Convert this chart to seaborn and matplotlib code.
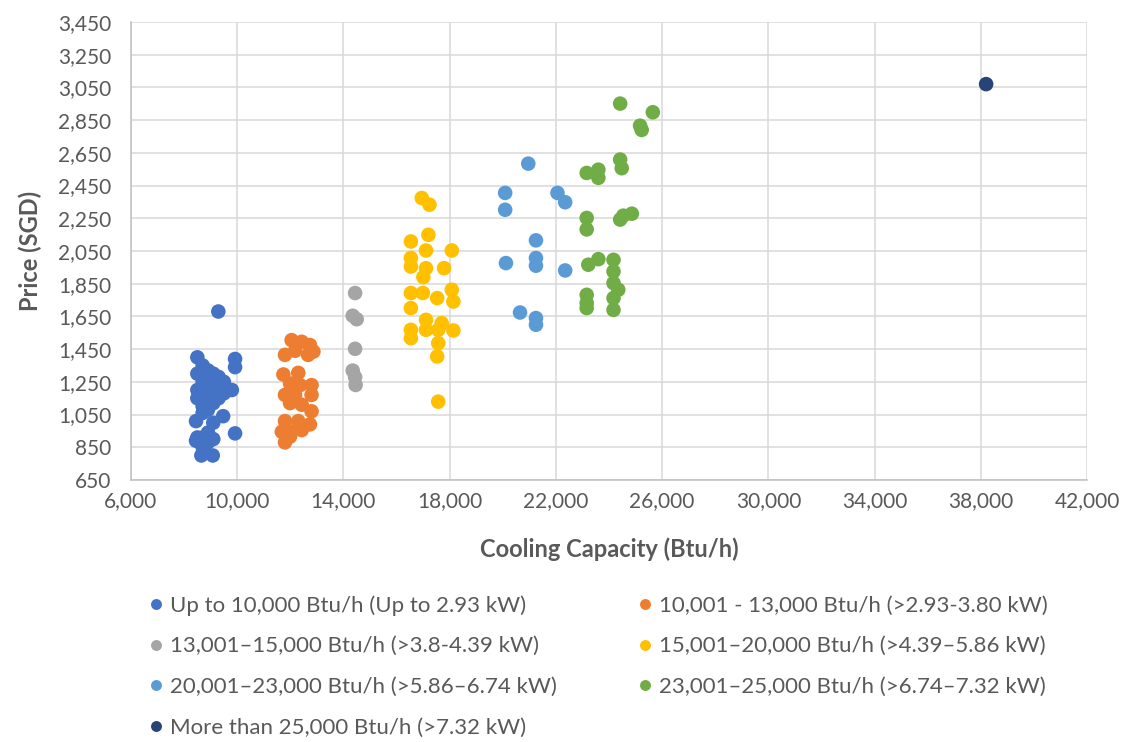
import pandas as pd
import matplotlib.pyplot as plt
import seaborn as sns
from matplotlib.ticker import FuncFormatter

labels = [
    "Up to 10,000 Btu/h (Up to 2.93 kW)",
    "10,001 - 13,000 Btu/h (>2.93-3.80 kW)",
    "13,001\u201315,000 Btu/h (>3.8-4.39 kW)",
    "15,001\u201320,000 Btu/h (>4.39\u20135.86 kW)",
    "20,001\u201323,000 Btu/h (>5.86\u20136.74 kW)",
    "23,001\u201325,000 Btu/h (>6.74\u20137.32 kW)",
    "More than 25,000 Btu/h (>7.32 kW)",
]
colors = ["#4472C4", "#ED7D31", "#A5A5A5", "#FFC000", "#5B9BD5", "#70AD47", "#264478"]

x_ticks = list(range(6000, 42001, 4000))
y_ticks = list(range(650, 3451, 200))

# up to 10,000
blue_x = [9290, 8500, 8500, 8500, 8500, 8450, 8500, 8450, 8700, 8700, 8700, 8700, 8700,
          8700, 8700, 8700, 8700, 8650, 8900, 8900, 8900, 8900, 8900, 8900, 8900, 8900,
          9100, 9100, 9100, 9100, 9100, 9100, 9100, 9080, 9300, 9300, 9300, 9470, 9500,
          9500, 9920, 9920, 9800, 9920]
blue_y = [1680, 1400, 1300, 1200, 1150, 1010, 910, 890, 1350, 1280, 1250, 1200, 1150,
          1100, 1060, 910, 850, 800, 1320, 1250, 1220, 1170, 1130, 1080, 940, 880,
          1300, 1250, 1200, 1150, 1120, 1000, 900, 800, 1280, 1220, 1150, 1040, 1250,
          1180, 1390, 1340, 1200, 935]

# 10,001 - 13,000
orange_x = [12050, 12430, 12740, 12870, 11800, 12180, 12670, 11740, 12300, 11990, 12370,
            12800, 11800, 12180, 12800, 11990, 12430, 12800, 11800, 12300, 12740, 11680,
            12050, 12430, 11800, 11990]
orange_y = [1505, 1495, 1475, 1435, 1415, 1440, 1415, 1295, 1305, 1240, 1230,
            1230, 1170, 1170, 1170, 1120, 1110, 1070, 1010, 1010, 990, 945,
            945, 955, 880, 915]

# 13,001 - 15,000
gray_x = [14440, 14350, 14500, 14440, 14350, 14440, 14460]
gray_y = [1793, 1654, 1633, 1452, 1319, 1279, 1231]

# 15,001 - 20,000
yellow_x = [16950, 17240, 17200, 16540, 17110, 18080, 16540, 16540, 17110, 17790, 17010,
            16540, 16990, 18080, 17530, 18140, 16540, 17110, 17700, 16540, 16540, 17110,
            17570, 18140, 17570, 17530, 17570]
yellow_y = [2374, 2333, 2149, 2108, 2053, 2053, 2007, 1955, 1945, 1945, 1890,
            1793, 1793, 1813, 1762, 1741, 1701, 1629, 1609, 1568, 1517, 1568,
            1568, 1564, 1487, 1405, 1129]

# 20,001 - 23,000
lblue_x = [20960, 20090, 20090, 22060, 22350, 21250, 21250, 21250, 20120, 22350, 20650,
           21250, 21250]
lblue_y = [2584, 2405, 2302, 2405, 2348, 2115, 2007, 1960, 1976, 1931, 1674,
           1640, 1599]

# 23,001 - 25,000
green_x = [24420, 25650, 25170, 25230, 23160, 23600, 23600, 24420, 24480, 23160, 23160,
           24420, 24540, 24860, 23220, 23600, 24170, 24170, 24170, 24350, 24170, 23160,
           23160, 23160, 24170]
green_y = [2951, 2898, 2816, 2790, 2527, 2547, 2497, 2609, 2556, 2252, 2182,
           2242, 2266, 2278, 1966, 2000, 1996, 1925, 1854, 1813, 1762, 1782,
           1731, 1701, 1690]

# more than 25,000
navy_x = [38200]
navy_y = [3070]

xs = [blue_x, orange_x, gray_x, yellow_x, lblue_x, green_x, navy_x]
ys = [blue_y, orange_y, gray_y, yellow_y, lblue_y, green_y, navy_y]
rows = []
for lab, gx, gy in zip(labels, xs, ys):
    for a, b in zip(gx, gy):
        rows.append({"Cooling Capacity (Btu/h)": a, "Price (SGD)": b, "Group": lab})
df = pd.DataFrame(rows)

sns.set_style("white")
plt.rcParams["font.family"] = ["Lato", "DejaVu Sans"]
grey_text = "#595959"

fig = plt.figure(figsize=(11.26, 7.42), dpi=100)
ax = fig.add_axes([0.1163, 0.3531, 0.8491, 0.6173])

sns.scatterplot(data=df, x="Cooling Capacity (Btu/h)", y="Price (SGD)", hue="Group",
                hue_order=labels, palette=colors, s=110, linewidth=0, alpha=1,
                ax=ax, zorder=3)

ax.set_xlim(6000, 42000)
ax.set_ylim(650, 3450)
ax.set_xticks(x_ticks)
ax.set_yticks(y_ticks)
fmt = FuncFormatter(lambda v, p: f"{v:,.0f}")
ax.xaxis.set_major_formatter(fmt)
ax.yaxis.set_major_formatter(fmt)
ax.grid(True, color="#D9D9D9", linewidth=1.1)
ax.set_axisbelow(True)
for side in ["top", "right"]:
    ax.spines[side].set_visible(False)
for side in ["left", "bottom"]:
    ax.spines[side].set_color("#BFBFBF")
    ax.spines[side].set_linewidth(1.1)
ax.tick_params(axis="both", length=0, labelsize=15, colors=grey_text)
ax.tick_params(axis="y", pad=14)
ax.tick_params(axis="x", pad=8)
ax.set_xlabel("Cooling Capacity (Btu/h)", fontsize=17, fontweight="bold", color=grey_text, labelpad=19)
ax.set_ylabel("Price (SGD)", fontsize=17, fontweight="bold", color=grey_text, labelpad=12)

# legend below the plot, two columns filled row by row
handles, labs = ax.get_legend_handles_labels()
ax.get_legend().remove()
order = [0, 2, 4, 6, 1, 3, 5]
fig.legend([handles[i] for i in order], [labs[i] for i in order], ncol=2,
           loc="upper left", bbox_to_anchor=(0.119, 0.21), frameon=False,
           fontsize=16, labelcolor=grey_text, markerscale=0.75, handletextpad=0.0,
           handlelength=1.2, columnspacing=3.4, labelspacing=0.93, borderaxespad=0)

fig.savefig("out.png", dpi=100)
